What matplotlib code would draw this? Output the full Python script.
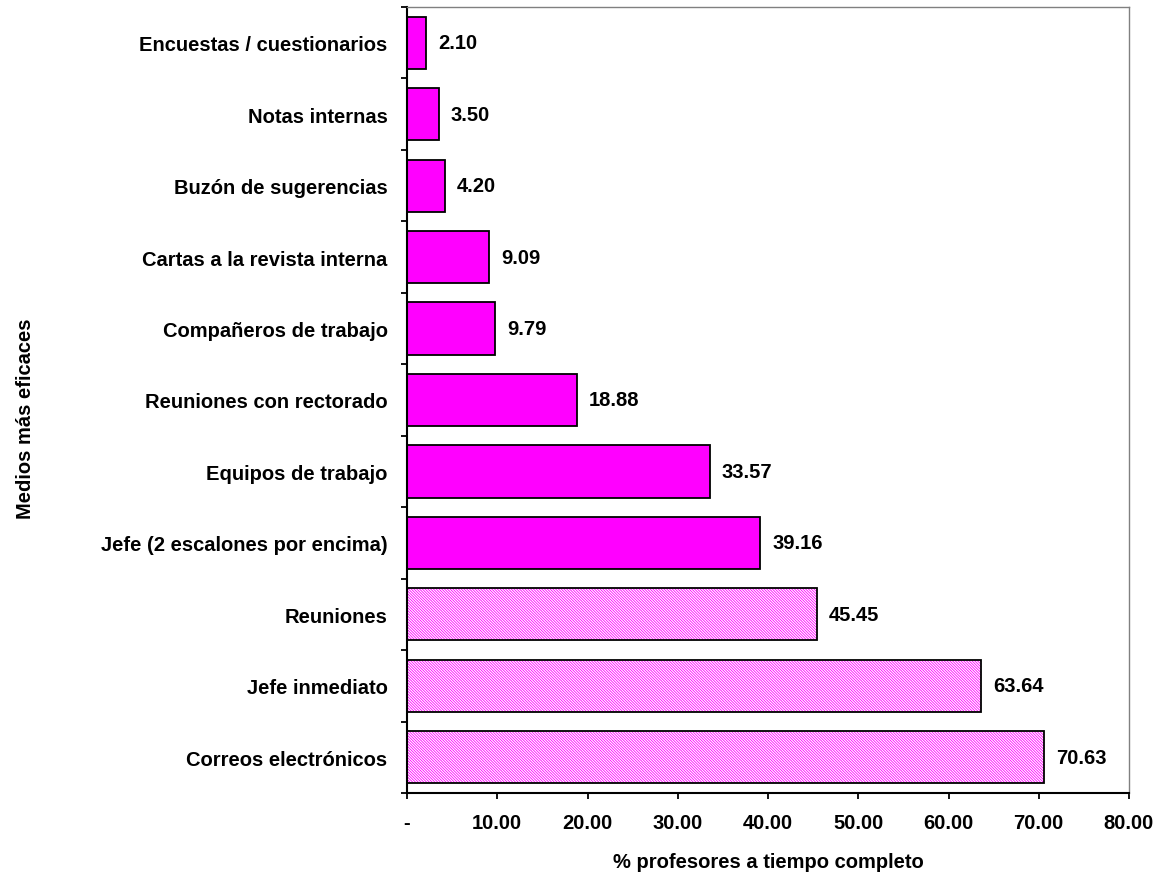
import numpy as np
import matplotlib
matplotlib.use('Agg')
from matplotlib import pyplot as plt

plt.rcParams['font.family'] = ['Liberation Sans', 'DejaVu Sans']
plt.rcParams['hatch.linewidth'] = 0.6

# de abajo hacia arriba
medios = ['Correos electrónicos', 'Jefe inmediato', 'Reuniones',
          'Jefe (2 escalones por encima)', 'Equipos de trabajo',
          'Reuniones con rectorado', 'Compañeros de trabajo',
          'Cartas a la revista interna', 'Buzón de sugerencias',
          'Notas internas', 'Encuestas / cuestionarios']
porcentajes = [70.63, 63.64, 45.45, 39.16, 33.57, 18.88, 9.79, 9.09, 4.20, 3.50, 2.10]
rayados = [True, True, True, False, False, False, False, False, False, False, False]

x_ticks = [0, 10, 20, 30, 40, 50, 60, 70, 80]
x_labels = ['-'] + [f'{v:.2f}' for v in x_ticks[1:]]

MAGENTA = '#FF00FF'
TAM = 14.5

fig = plt.figure(figsize=(11.68, 8.79), dpi=100)
ax = fig.add_axes([0.3485, 0.0967, 0.6181, 0.8942])

y = np.arange(len(medios))
alto = 0.73
for yi, val, ray in zip(y, porcentajes, rayados):
    if ray:
        # relleno rayado rosa sobre blanco, borde negro aparte
        ax.barh(yi, val, height=alto, color='white', edgecolor=MAGENTA,
                hatch='\\' * 12, linewidth=0)
        ax.barh(yi, val, height=alto, fill=False, edgecolor='black', linewidth=1.3)
    else:
        ax.barh(yi, val, height=alto, color=MAGENTA, edgecolor='black', linewidth=1.3)
    ax.annotate(f'{val:.2f}', (val, yi), xytext=(8.5, 0), textcoords='offset points',
                va='center', ha='left', fontsize=TAM, fontweight='bold')

ax.set_xlim(0, 80)
ax.set_ylim(-0.5, len(medios) - 0.5)

ax.set_xticks(x_ticks)
ax.set_xticklabels(x_labels, fontsize=TAM, fontweight='bold')
ax.tick_params(axis='x', direction='out', length=4.5, width=1.3, pad=10)

# etiquetas en el centro, marcas entre categorías
ax.set_yticks(y)
ax.set_yticklabels(medios, fontsize=TAM, fontweight='bold')
ax.set_yticks(np.arange(len(medios) + 1) - 0.5, minor=True)
ax.tick_params(axis='y', which='major', length=0, pad=14)
ax.tick_params(axis='y', which='minor', direction='out', length=4.5, width=1.3)

for lado in ['left', 'bottom']:
    ax.spines[lado].set_color('black')
    ax.spines[lado].set_linewidth(1.5)
for lado in ['top', 'right']:
    ax.spines[lado].set_color('#808080')
    ax.spines[lado].set_linewidth(1.0)

ax.set_xlabel('% profesores a tiempo completo', fontsize=TAM, fontweight='bold', labelpad=14)
fig.text(0.022, 0.524, 'Medios más eficaces', rotation=90, fontsize=TAM,
         fontweight='bold', ha='center', va='center')

fig.savefig('out.png', dpi=100)
